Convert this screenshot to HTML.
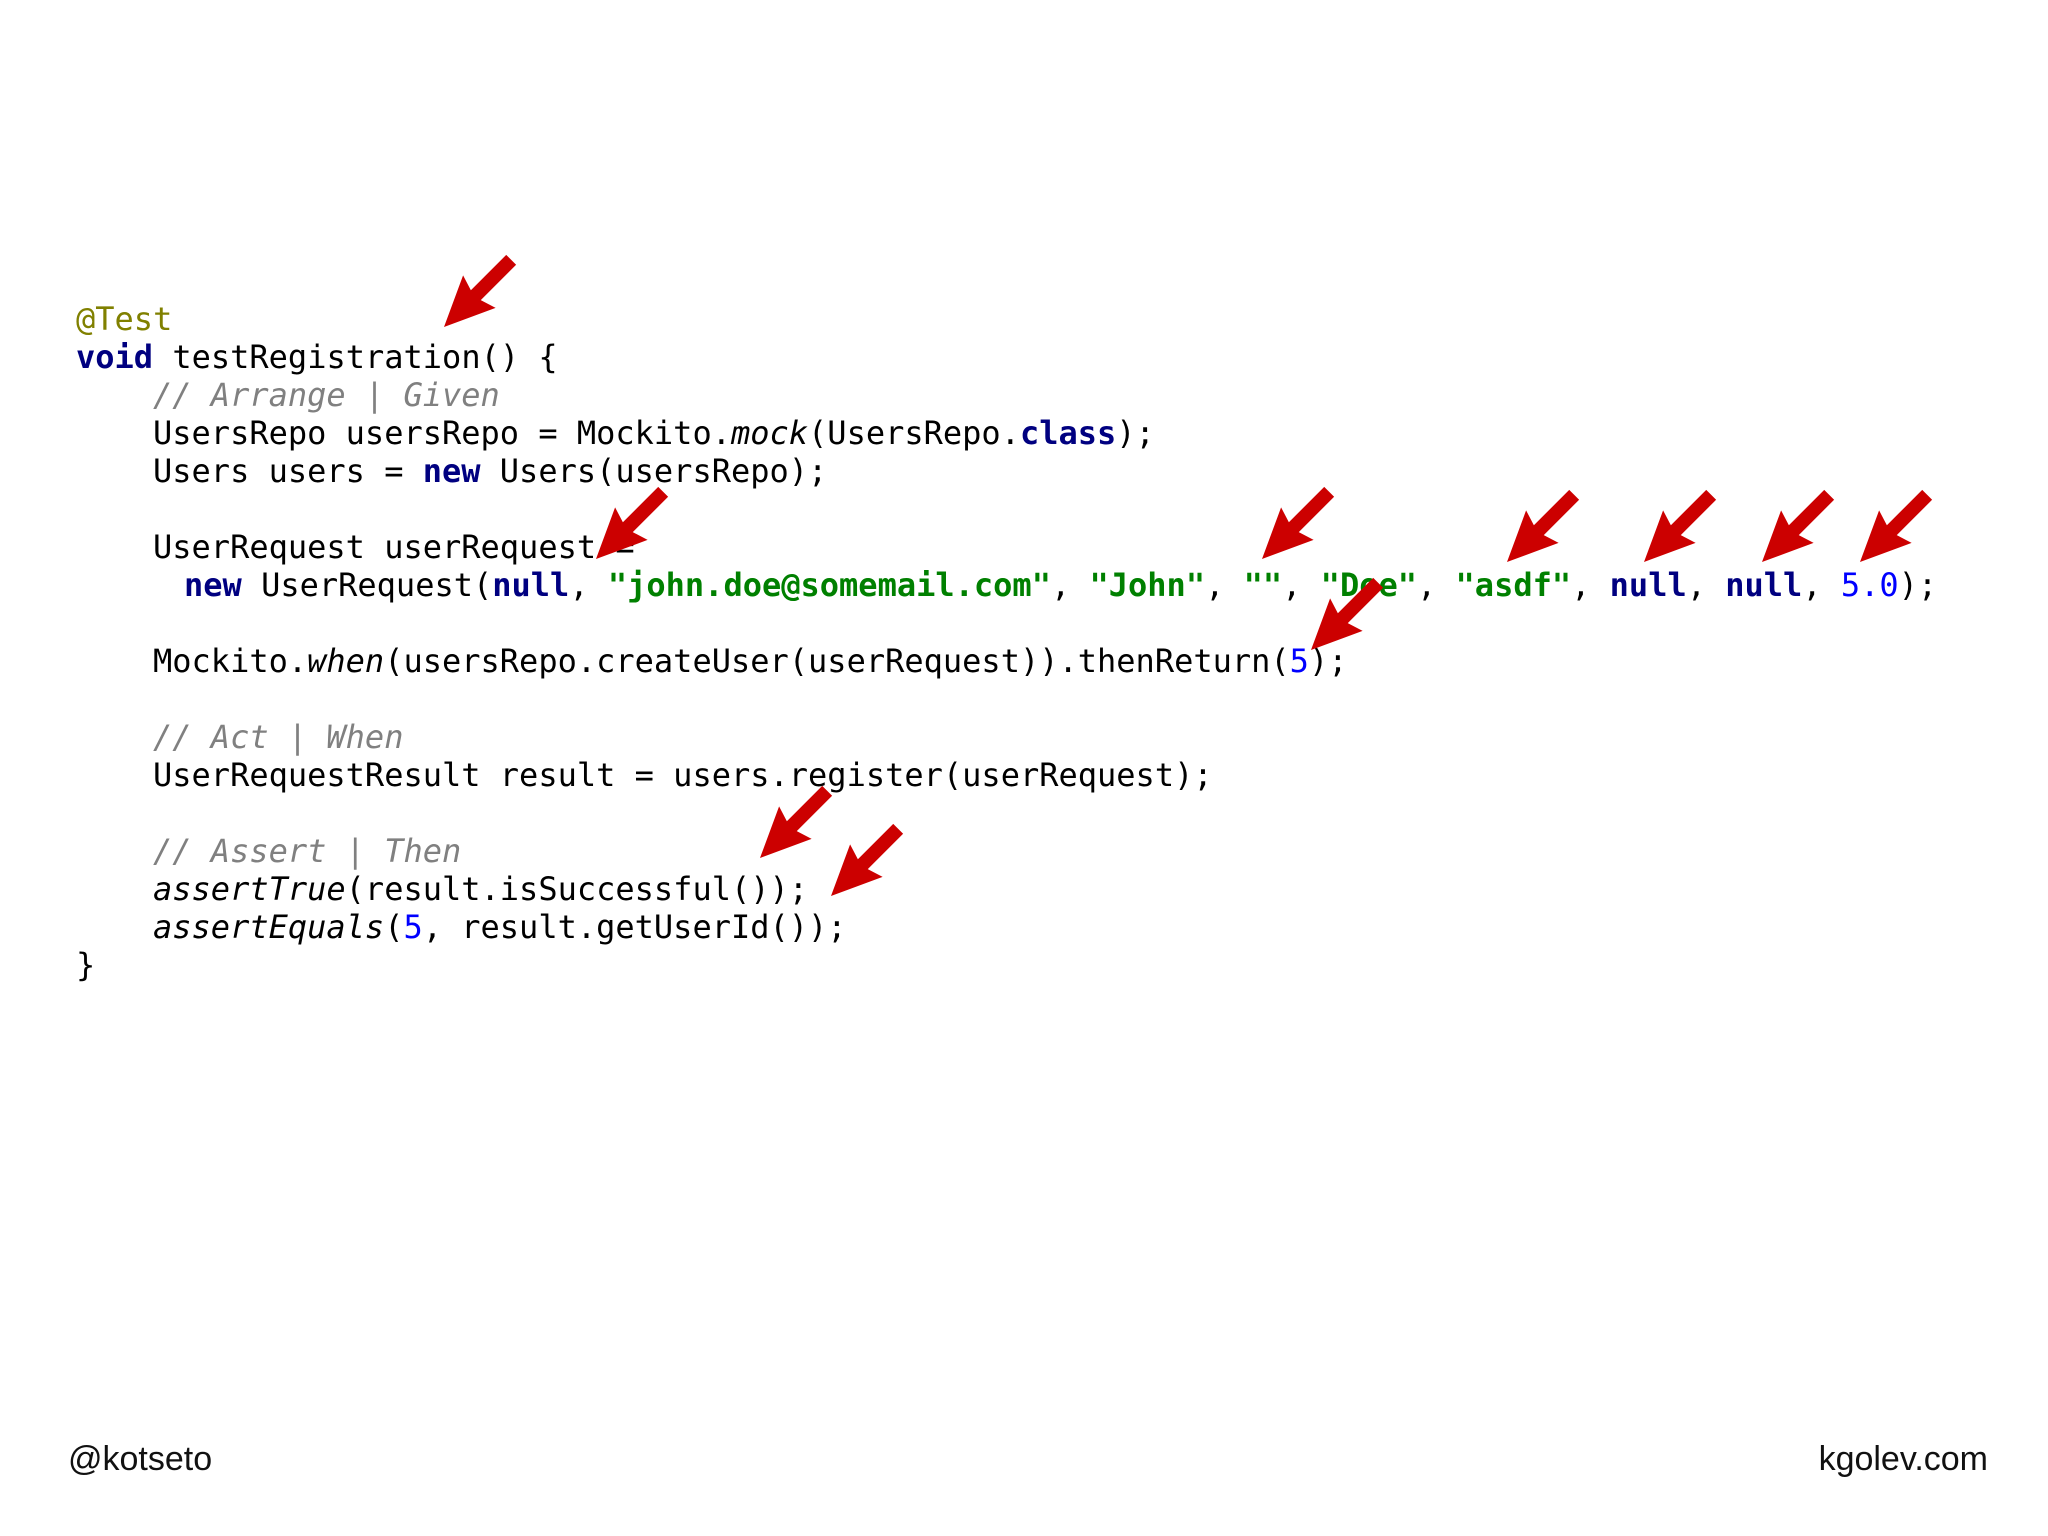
<!DOCTYPE html>
<html><head><meta charset="utf-8"><style>
body{margin:0;width:2048px;height:1536px;background:#fff;position:relative;overflow:hidden}
.l{position:absolute;font-family:"DejaVu Sans Mono","Liberation Mono",monospace;font-size:32px;line-height:38px;height:38px;white-space:pre;color:#000}
.k{color:#000080;font-weight:bold}
.s{color:#008000;font-weight:bold}
.n{color:#0000ff}
.c{color:#808080;font-style:italic}
.a{color:#808000}
i{font-style:italic}
.f{position:absolute;font-family:"Liberation Sans",sans-serif;font-size:34px;color:#111;top:1440px}
svg{position:absolute;left:0;top:0}
</style></head><body>
<div class="l a" style="left:76px;top:300px">@Test</div>
<div class="l" style="left:76px;top:338px"><span class="k">void</span> testRegistration() {</div>
<div class="l c" style="left:153px;top:376px">// Arrange | Given</div>
<div class="l" style="left:153px;top:414px">UsersRepo usersRepo = Mockito.<i>mock</i>(UsersRepo.<span class="k">class</span>);</div>
<div class="l" style="left:153px;top:452px">Users users = <span class="k">new</span> Users(usersRepo);</div>
<div class="l" style="left:153px;top:528px">UserRequest userRequest =</div>
<div class="l" style="left:184px;top:566px"><span class="k">new</span> UserRequest(<span class="k">null</span>, <span class="s">"john.doe@somemail.com"</span>, <span class="s">"John"</span>, <span class="s">""</span>, <span class="s">"Doe"</span>, <span class="s">"asdf"</span>, <span class="k">null</span>, <span class="k">null</span>, <span class="n">5.0</span>);</div>
<div class="l" style="left:153px;top:642px">Mockito.<i>when</i>(usersRepo.createUser(userRequest)).thenReturn(<span class="n">5</span>);</div>
<div class="l c" style="left:153px;top:718px">// Act | When</div>
<div class="l" style="left:153px;top:756px">UserRequestResult result = users.register(userRequest);</div>
<div class="l c" style="left:153px;top:832px">// Assert | Then</div>
<div class="l" style="left:153px;top:870px"><i>assertTrue</i>(result.isSuccessful());</div>
<div class="l" style="left:153px;top:908px"><i>assertEquals</i>(<span class="n">5</span>, result.getUserId());</div>
<div class="l" style="left:76px;top:946px">}</div>
<div class="f" style="left:68px">@kotseto</div>
<div class="f" style="right:60px">kgolev.com</div>
<svg width="2048" height="1536">
<defs><polygon id="ar" fill="#cc0000" points="0,0 50,-23 45,-7 95,-7 95,7 45,7 50,23"/></defs>
<use href="#ar" transform="translate(444,327) rotate(-45)"/>
<use href="#ar" transform="translate(596,559) rotate(-45)"/>
<use href="#ar" transform="translate(1262,559) rotate(-45)"/>
<use href="#ar" transform="translate(1507,562) rotate(-45)"/>
<use href="#ar" transform="translate(1644,562) rotate(-45)"/>
<use href="#ar" transform="translate(1762,562) rotate(-45)"/>
<use href="#ar" transform="translate(1860,562) rotate(-45)"/>
<use href="#ar" transform="translate(1311,650) rotate(-45)"/>
<use href="#ar" transform="translate(760,858) rotate(-45)"/>
<use href="#ar" transform="translate(831,896) rotate(-45)"/>
</svg>
</body></html>
